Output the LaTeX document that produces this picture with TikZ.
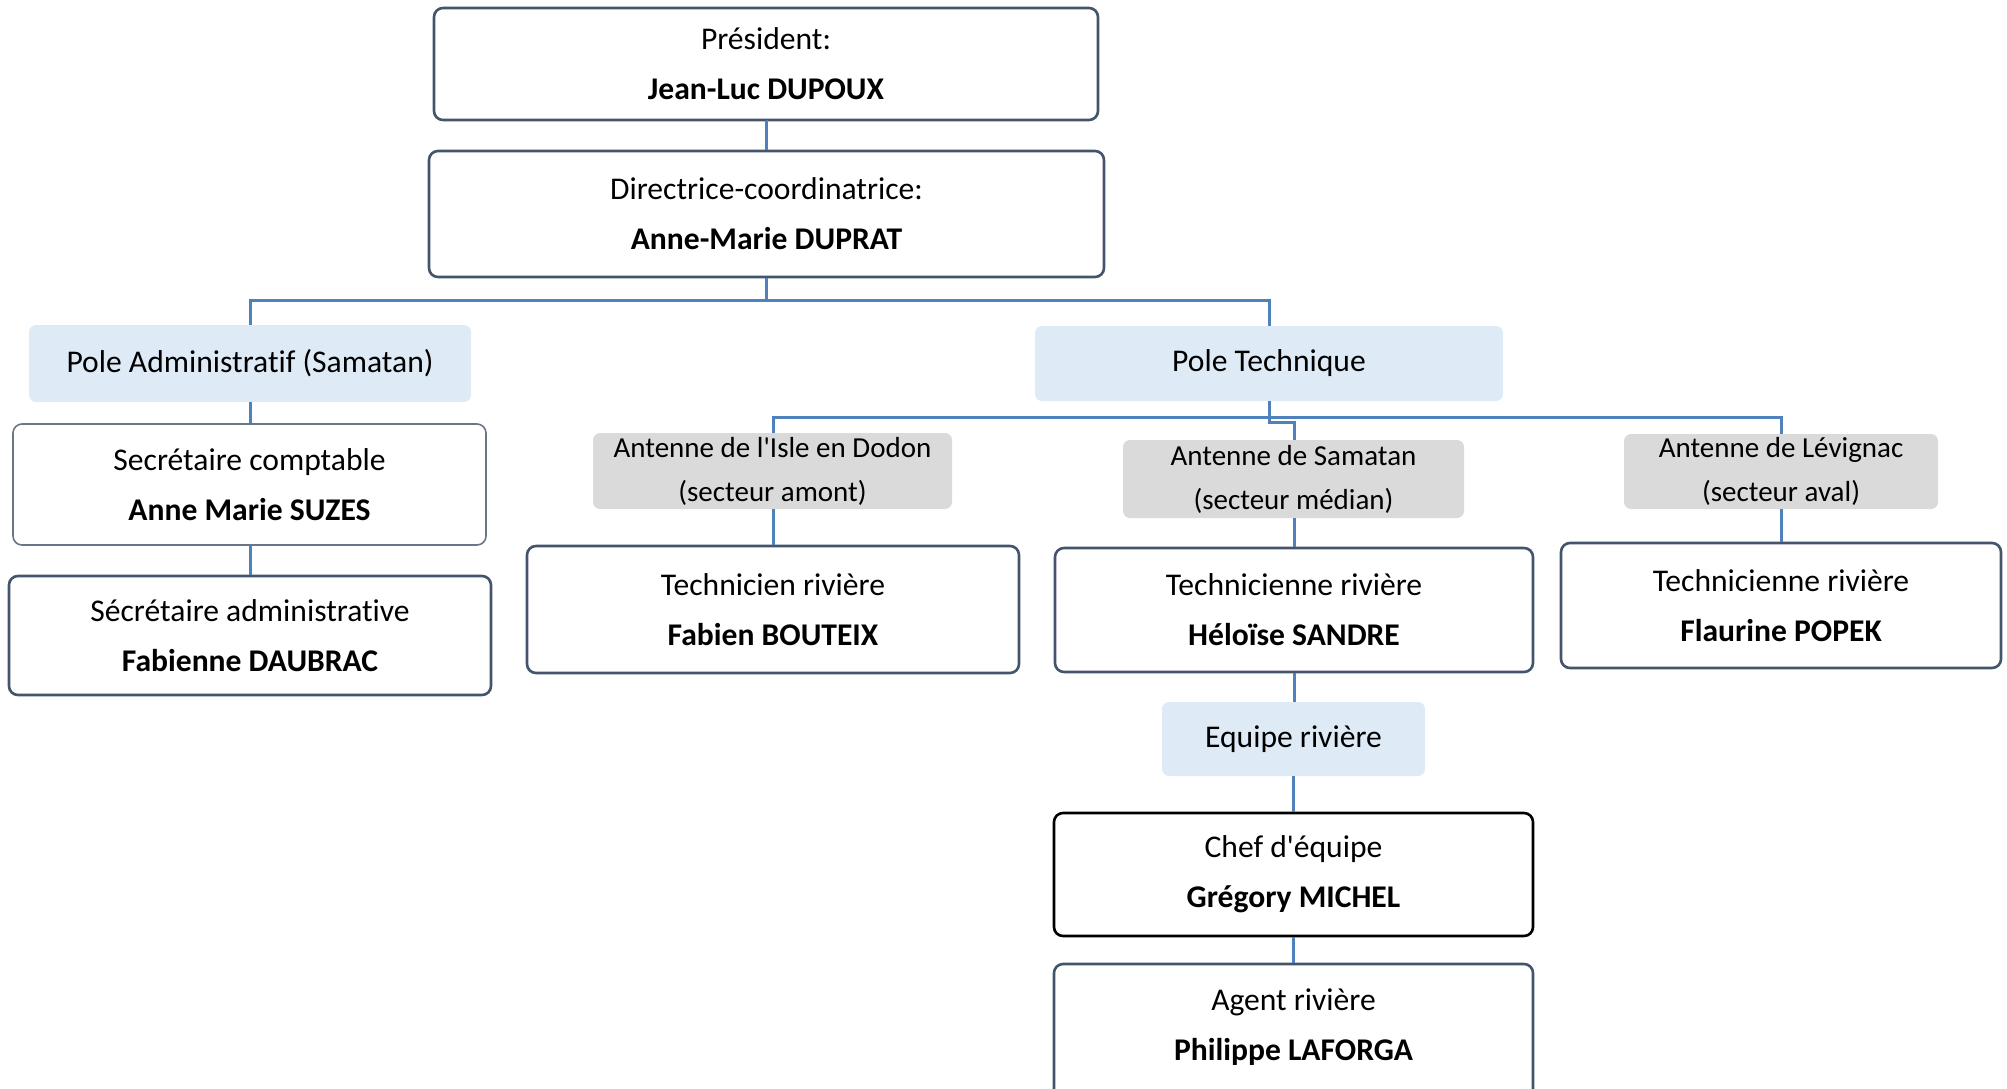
\documentclass[tikz,border=0pt]{standalone}
\usepackage{fontspec}
\setmainfont{Carlito}[Ligatures={TeXOff,NoCommon}]
\definecolor{bordc}{RGB}{68,84,106}
\definecolor{connc}{RGB}{79,129,189}
\definecolor{lblue}{RGB}{222,235,247}
\definecolor{lgray}{RGB}{218,218,218}
\tikzset{
  pbox/.style={draw=bordc, line width=2.6pt, rounded corners=9pt, fill=white, align=center, inner sep=0pt,
    font=\fontsize{31.6}{50}\selectfont},
  thinbox/.style={pbox, line width=1.6pt, draw=bordc!80},
  blackbox/.style={pbox, draw=black},
  bluebox/.style={fill=lblue, rounded corners=7pt, align=center, inner sep=0pt,
    font=\fontsize{31.6}{50}\selectfont},
  graybox/.style={fill=lgray, rounded corners=7pt, align=center, inner sep=0pt,
    font=\fontsize{29}{44}\selectfont},
  conn/.style={draw=connc, line width=3pt},
}
\begin{document}
\begin{tikzpicture}[x=1pt,y=-1pt]
\useasboundingbox (0,0) rectangle (2007,1088);
\clip (0,0) rectangle (2007,1088);
\node[pbox, minimum width=664pt, minimum height=112pt] (pres) at (766,64) {Président:\\\textbf{Jean-Luc DUPOUX}};
\node[pbox, minimum width=675pt, minimum height=126pt] (dir) at (766.5,214) {Directrice-coordinatrice:\\\textbf{Anne-Marie DUPRAT}};
\node[bluebox, minimum width=442pt, minimum height=77pt] (padm) at (250,363.5) {Pole Administratif (Samatan)};
\node[bluebox, minimum width=468pt, minimum height=75pt] (ptech) at (1269,363.5) {Pole Technique};
\node[thinbox, minimum width=473pt, minimum height=121pt] (sc) at (249.5,484.5) {Secrétaire comptable\\\textbf{Anne Marie SUZES}};
\node[pbox, minimum width=482pt, minimum height=119pt] (sa) at (250,635.5) {Sécrétaire administrative\\\textbf{Fabienne DAUBRAC}};
\node[graybox, minimum width=359pt, minimum height=76pt] (aisle) at (772.5,471) {Antenne de l'Isle en Dodon\\(secteur amont)};
\node[pbox, minimum width=492pt, minimum height=127pt] (tech1) at (773,609.5) {Technicien rivière\\\textbf{Fabien BOUTEIX}};
\node[graybox, minimum width=341pt, minimum height=78pt] (asam) at (1293.5,479) {Antenne de Samatan\\(secteur médian)};
\node[pbox, minimum width=478pt, minimum height=124pt] (tech2) at (1294,610) {Technicienne rivière\\\textbf{Héloïse SANDRE}};
\node[graybox, minimum width=314pt, minimum height=75pt] (alev) at (1781,471.5) {Antenne de Lévignac\\(secteur aval)};
\node[pbox, minimum width=440pt, minimum height=125pt] (tech3) at (1781,605.5) {Technicienne rivière\\\textbf{Flaurine POPEK}};
\node[bluebox, minimum width=263pt, minimum height=74pt] (equipe) at (1293.5,739) {Equipe rivière};
\node[blackbox, minimum width=479pt, minimum height=123pt] (chef) at (1293.5,874.5) {Chef d'équipe\\\textbf{Grégory MICHEL}};
\node[pbox, minimum width=479pt, minimum height=134pt] (agent) at (1293.5,1031) {};
\node[font=\fontsize{31.6}{50}\selectfont, align=center, inner sep=0pt] (agenttxt) at (1293.5,1027) {Agent rivière\\\textbf{Philippe LAFORGA}};
\coordinate (h1) at (0,300);
\coordinate (h2) at (0,417);
\coordinate (h3) at (0,422);
\draw[conn] (pres.south) -- (dir.south |- pres.south) -- (dir.north);
\draw[conn] (dir.south) -- (dir.south |- h1) -| (padm.north);
\draw[conn] (dir.south |- h1) -| (ptech.north);
\draw[conn] (padm.south) -- (sc.north -| padm.south);
\draw[conn] (sc.south -| padm.south) -- (sa.north -| padm.south);
\draw[conn] (ptech.south) -- (ptech.south |- h2) -| (aisle.north -| tech1.north);
\draw[conn] (ptech.south |- h2) -| (alev.north);
\draw[conn] (ptech.south |- h2) -- (ptech.south |- h3) -| (asam.north -| tech2.north);
\draw[conn] (aisle.south -| tech1.north) -- (tech1.north);
\draw[conn] (asam.south -| tech2.north) -- (tech2.north);
\draw[conn] (alev.south) -- (tech3.north -| alev.south);
\draw[conn] (tech2.south) -- (equipe.north -| tech2.south);
\draw[conn] (equipe.south -| chef.north) -- (chef.north);
\draw[conn] (chef.south) -- (agent.north);
\end{tikzpicture}
\end{document}
